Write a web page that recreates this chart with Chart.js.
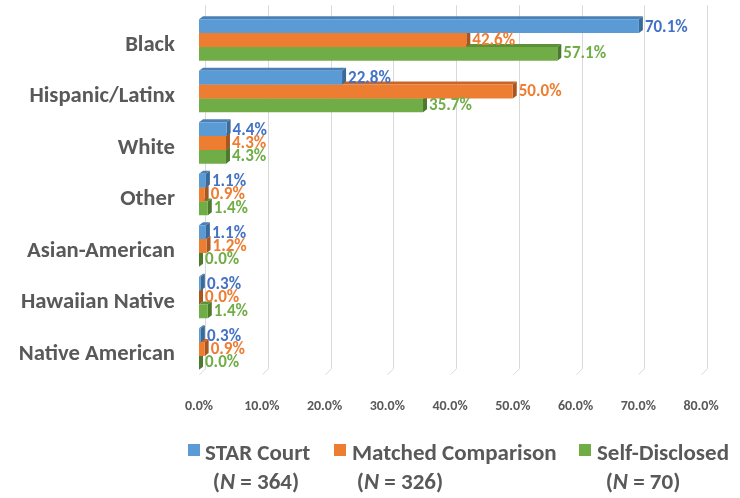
<!DOCTYPE html>
<html><head><meta charset="utf-8">
<script src="https://cdn.jsdelivr.net/npm/chart.js@4"></script>
<style>
html,body{margin:0;padding:0;background:#fff;}
#wrap{position:relative;width:740px;height:498px;overflow:hidden;}
canvas{position:absolute;left:0;top:0;}
.lg{position:absolute;font-family:Carlito,Calibri,"Liberation Sans",sans-serif;font-weight:bold;color:#595959;font-size:23px;white-space:nowrap;line-height:23px;}
.c2{transform:translateX(-50%);}
.sq{position:absolute;width:12px;height:12px;}
</style></head>
<body>
<div id="wrap">
<canvas id="c" width="740" height="498"></canvas>
<div class="sq" style="left:188px;top:444px;background:#5B9BD5"></div>
<div class="lg" style="left:205px;top:441px">STAR Court</div>
<div class="lg c2" style="left:256px;top:470px">(<i>N</i> = 364)</div>
<div class="sq" style="left:334px;top:444px;background:#ED7D31"></div>
<div class="lg" style="left:352px;top:441px">Matched Comparison</div>
<div class="lg c2" style="left:400px;top:470px">(<i>N</i> = 326)</div>
<div class="sq" style="left:579px;top:444px;background:#70AD47"></div>
<div class="lg" style="left:597px;top:441px">Self-Disclosed</div>
<div class="lg c2" style="left:643px;top:470px">(<i>N</i> = 70)</div>
</div>
<script>
const categories = ["Black","Hispanic/Latinx","White","Other","Asian-American","Hawaiian Native","Native American"];
const seriesNames = ["STAR Court","Matched Comparison","Self-Disclosed"];
const starCourt = [70.1, 22.8, 4.4, 1.1, 1.1, 0.3, 0.3];
const matchedComparison = [42.6, 50.0, 4.3, 0.9, 1.2, 0.0, 0.9];
const selfDisclosed = [57.1, 35.7, 4.3, 1.4, 0.0, 1.4, 0.0];
const xTickValues = [0, 10, 20, 30, 40, 50, 60, 70, 80];

const FONT = 'Carlito, Calibri, "Liberation Sans", sans-serif';
const fills = ["#5B9BD5","#ED7D31","#70AD47"];
const tops = ["#4A80B4","#C8662A","#5C9139"];
const sides = ["#3B6A98","#A85620","#4B7A2E"];
const labelColors = ["#4472C4","#ED7D31","#70AD47"];
const DX = 4, DY = 3;

const gridPlugin = {
  id: 'grid3d',
  beforeDatasetsDraw(chart) {
    const ctx = chart.ctx, xs = chart.scales.x, a = chart.chartArea;
    ctx.save();
    ctx.strokeStyle = '#D9D9D9';
    ctx.lineWidth = 1;
    xs.ticks.forEach(t => {
      const x = Math.round(xs.getPixelForValue(t.value)) + 0.5;
      ctx.beginPath();
      ctx.moveTo(x + 6, a.top - 9);
      ctx.lineTo(x + 6, a.bottom - 6);
      ctx.lineTo(x, a.bottom);
      ctx.stroke();
    });
    for (let d = 2; d >= 0; d--) {
      const meta = chart.getDatasetMeta(d);
      meta.data.forEach(el => {
        const h = el.height, top = el.y - h / 2, bot = el.y + h / 2;
        const x0 = el.base, x1 = el.x;
        ctx.fillStyle = tops[d];
        ctx.beginPath();
        ctx.moveTo(x0, top); ctx.lineTo(x0 + DX, top - DY);
        ctx.lineTo(x1 + DX, top - DY); ctx.lineTo(x1, top); ctx.closePath(); ctx.fill();
        ctx.fillStyle = sides[d];
        ctx.beginPath();
        ctx.moveTo(x1, top); ctx.lineTo(x1 + DX, top - DY);
        ctx.lineTo(x1 + DX, bot - DY); ctx.lineTo(x1, bot); ctx.closePath(); ctx.fill();
      });
    }
    ctx.restore();
  },
  afterDatasetsDraw(chart) {
    const ctx = chart.ctx;
    const yoff = [1.5, 0.5, 0];
    ctx.save();
    ctx.font = 'bold 17px ' + FONT;
    ctx.textAlign = 'left';
    ctx.textBaseline = 'middle';
    chart.data.datasets.forEach((ds, d) => {
      chart.getDatasetMeta(d).data.forEach((el, i) => {
        ctx.fillStyle = labelColors[d];
        ctx.fillText(ds.data[i].toFixed(1) + '%', el.x + DX + 2, el.y + yoff[d]);
      });
    });
    ctx.restore();
  }
};

new Chart(document.getElementById('c'), {
  type: 'bar',
  data: {
    labels: categories,
    datasets: [
      { label: seriesNames[0], data: starCourt, backgroundColor: fills[0] },
      { label: seriesNames[1], data: matchedComparison, backgroundColor: fills[1] },
      { label: seriesNames[2], data: selfDisclosed, backgroundColor: fills[2] }
    ]
  },
  options: {
    indexAxis: 'y',
    responsive: false,
    animation: false,
    events: [],
    layout: { padding: { top: 14.25, right: 39, left: 0, bottom: 0 } },
    datasets: { bar: { categoryPercentage: 0.81, barPercentage: 1.0, borderWidth: 0 } },
    plugins: { legend: { display: false }, tooltip: { enabled: false } },
    scales: {
      x: {
        min: 0, max: 80,
        afterBuildTicks(scale) { scale.ticks = xTickValues.map(v => ({ value: v })); },
        afterFit(scale) { scale.height = 123.25; scale.paddingLeft = 0; scale.paddingRight = 0; },
        grid: { display: false, drawTicks: false },
        border: { display: false },
        ticks: {
          padding: 23,
          maxRotation: 0,
          color: '#595959',
          font: { family: FONT, size: 14, weight: 'bold' },
          callback: v => v.toFixed(1) + '%'
        }
      },
      y: {
        afterFit(scale) { scale.width = 199; scale.paddingTop = 0; scale.paddingBottom = 0; },
        grid: { display: false, drawTicks: false },
        border: { display: false },
        ticks: {
          padding: 24,
          labelOffset: 5,
          color: '#595959',
          font: { family: FONT, size: 22.7, weight: 'bold' }
        }
      }
    }
  },
  plugins: [gridPlugin]
});
</script>
</body></html>
